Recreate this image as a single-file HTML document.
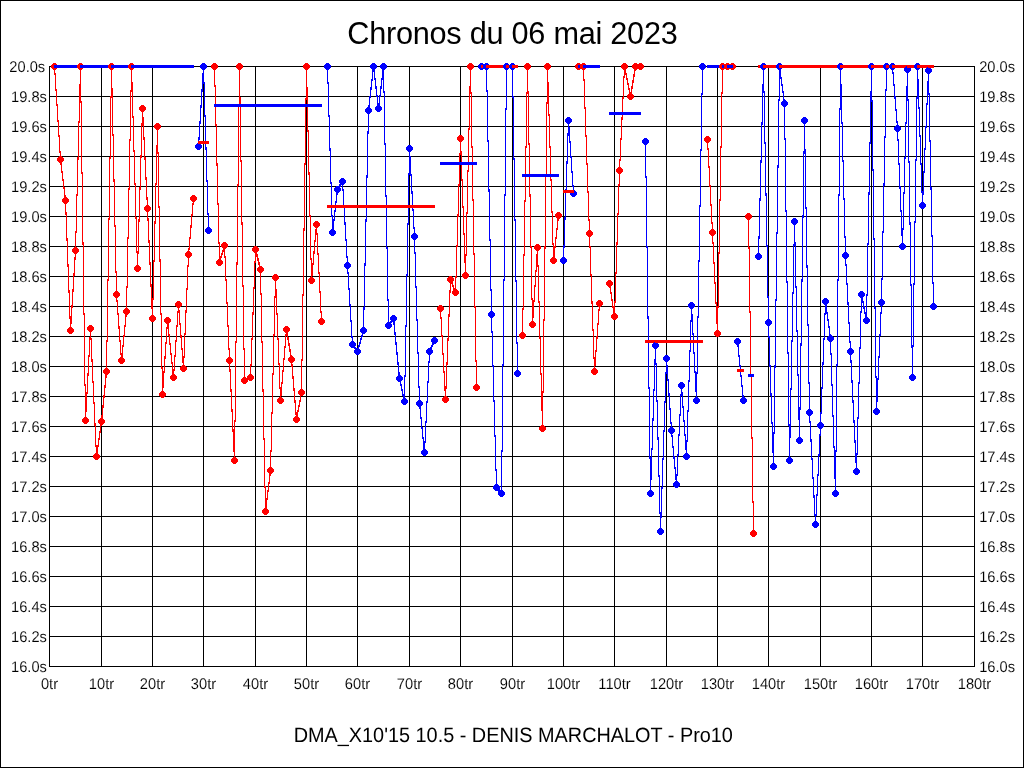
<!DOCTYPE html>
<html><head><meta charset="utf-8"><title>Chronos du 06 mai 2023</title>
<style>html,body{margin:0;padding:0;background:#fff}body{width:1024px;height:768px;overflow:hidden}svg{display:block;will-change:transform}text{font-family:"Liberation Sans",sans-serif;fill:#000}</style></head><body>
<svg width="1024" height="768" viewBox="0 0 1024 768">
<rect x="0" y="0" width="1024" height="768" fill="#fff"/>
<g shape-rendering="crispEdges">
<path d="M0.5 0.5H1023.5V767.5H0.5Z" fill="none" stroke="#000" stroke-width="1"/>
<path d="M49.5 66V667M101.5 66V667M152.5 66V667M203.5 66V667M255.5 66V667M306.5 66V667M357.5 66V667M409.5 66V667M460.5 66V667M512.5 66V667M563.5 66V667M614.5 66V667M666.5 66V667M717.5 66V667M768.5 66V667M820.5 66V667M871.5 66V667M922.5 66V667M974.5 66V667M49 66.5H975M49 96.5H975M49 126.5H975M49 156.5H975M49 186.5H975M49 216.5H975M49 246.5H975M49 276.5H975M49 306.5H975M49 336.5H975M49 366.5H975M49 396.5H975M49 426.5H975M49 456.5H975M49 486.5H975M49 516.5H975M49 546.5H975M49 576.5H975M49 606.5H975M49 636.5H975M49 666.5H975" fill="none" stroke="#000" stroke-width="1"/>
<path d="M54 66h1v9h-1zM55 73h1v18h-1zM56 89h1v17h-1zM57 104h1v18h-1zM58 120h1v17h-1zM59 135h1v18h-1zM60 151h1v9h-1zM60 159h1v6h-1zM61 163h1v10h-1zM62 171h1v10h-1zM63 179h1v10h-1zM64 187h1v10h-1zM65 195h1v6h-1zM65 200h1v15h-1zM66 212h1v29h-1zM67 238h1v29h-1zM68 264h1v29h-1zM69 290h1v29h-1zM70 316h1v15h-1zM70 321h1v10h-1zM71 305h1v19h-1zM72 289h1v19h-1zM73 273h1v19h-1zM74 257h1v19h-1zM75 250h1v10h-1zM75 231h1v20h-1zM76 194h1v39h-1zM77 157h1v39h-1zM78 121h1v39h-1zM79 84h1v39h-1zM80 66h1v20h-1zM80 66h1v37h-1zM81 101h1v73h-1zM82 172h1v73h-1zM83 242h1v73h-1zM84 313h1v73h-1zM85 384h1v37h-1zM85 410h1v11h-1zM86 392h1v20h-1zM87 373h1v21h-1zM88 355h1v21h-1zM89 337h1v20h-1zM90 328h1v11h-1zM90 328h1v12h-1zM91 338h1v24h-1zM92 359h1v24h-1zM93 381h1v23h-1zM94 402h1v24h-1zM95 423h1v24h-1zM96 445h1v12h-1zM96 452h1v5h-1zM97 445h1v9h-1zM98 438h1v9h-1zM99 431h1v9h-1zM100 424h1v9h-1zM101 421h1v5h-1zM101 415h1v7h-1zM102 405h1v13h-1zM103 395h1v13h-1zM104 385h1v13h-1zM105 375h1v13h-1zM106 371h1v7h-1zM106 340h1v32h-1zM107 279h1v63h-1zM108 218h1v63h-1zM109 157h1v63h-1zM110 96h1v63h-1zM111 66h1v32h-1zM111 66h1v24h-1zM112 88h1v48h-1zM113 134h1v48h-1zM114 179h1v48h-1zM115 225h1v48h-1zM116 271h1v24h-1zM116 294h1v8h-1zM117 300h1v15h-1zM118 313h1v16h-1zM119 326h1v16h-1zM120 340h1v15h-1zM121 353h1v8h-1zM121 355h1v6h-1zM122 345h1v12h-1zM123 335h1v12h-1zM124 325h1v12h-1zM125 315h1v12h-1zM126 311h1v6h-1zM126 286h1v26h-1zM127 237h1v51h-1zM128 188h1v51h-1zM129 139h1v51h-1zM130 90h1v51h-1zM131 66h1v26h-1zM131 66h1v18h-1zM132 82h1v36h-1zM133 116h1v36h-1zM134 150h1v35h-1zM135 183h1v36h-1zM136 217h1v36h-1zM137 251h1v18h-1zM137 251h1v18h-1zM138 219h1v35h-1zM139 187h1v35h-1zM140 155h1v35h-1zM141 123h1v35h-1zM142 108h1v18h-1zM142 108h1v12h-1zM143 117h1v23h-1zM144 137h1v23h-1zM145 157h1v23h-1zM146 177h1v23h-1zM147 197h1v12h-1zM147 208h1v13h-1zM148 218h1v25h-1zM149 240h1v25h-1zM150 262h1v25h-1zM151 284h1v25h-1zM152 306h1v13h-1zM152 298h1v21h-1zM153 260h1v40h-1zM154 221h1v41h-1zM155 183h1v41h-1zM156 145h1v40h-1zM157 126h1v21h-1zM157 126h1v28h-1zM158 152h1v56h-1zM159 206h1v56h-1zM160 259h1v56h-1zM161 313h1v56h-1zM162 367h1v28h-1zM162 386h1v9h-1zM163 371h1v17h-1zM164 356h1v17h-1zM165 342h1v17h-1zM166 327h1v17h-1zM167 320h1v9h-1zM167 320h1v6h-1zM168 324h1v12h-1zM169 334h1v11h-1zM170 343h1v12h-1zM171 353h1v11h-1zM172 362h1v12h-1zM173 372h1v6h-1zM173 369h1v9h-1zM174 355h1v16h-1zM175 340h1v17h-1zM176 325h1v17h-1zM177 311h1v16h-1zM178 304h1v9h-1zM178 304h1v8h-1zM179 310h1v15h-1zM180 323h1v15h-1zM181 335h1v15h-1zM182 348h1v15h-1zM183 361h1v8h-1zM183 356h1v13h-1zM184 333h1v25h-1zM185 310h1v25h-1zM186 288h1v25h-1zM187 265h1v25h-1zM188 254h1v13h-1zM188 248h1v7h-1zM189 237h1v13h-1zM190 225h1v14h-1zM191 214h1v14h-1zM192 203h1v13h-1zM193 198h1v7h-1z" fill="#f00"/>
<path d="M198 137h1v10h-1zM199 121h1v19h-1zM200 105h1v19h-1zM201 89h1v19h-1zM202 73h1v19h-1zM203 66h1v10h-1zM203 66h1v18h-1zM204 82h1v35h-1zM205 115h1v35h-1zM206 147h1v35h-1zM207 180h1v35h-1zM208 213h1v18h-1z" fill="#00f"/>
<path d="M214 66h1v21h-1zM215 85h1v41h-1zM216 124h1v42h-1zM217 163h1v42h-1zM218 203h1v41h-1zM219 242h1v21h-1zM219 260h1v3h-1zM220 256h1v6h-1zM221 253h1v5h-1zM222 250h1v5h-1zM223 246h1v6h-1zM224 245h1v3h-1zM224 245h1v13h-1zM225 256h1v25h-1zM226 279h1v25h-1zM227 302h1v25h-1zM228 325h1v25h-1zM229 348h1v13h-1zM229 360h1v12h-1zM230 369h1v23h-1zM231 389h1v23h-1zM232 409h1v23h-1zM233 429h1v23h-1zM234 449h1v12h-1zM234 420h1v41h-1zM235 341h1v81h-1zM236 262h1v81h-1zM237 184h1v81h-1zM238 105h1v81h-1zM239 66h1v41h-1zM239 66h1v33h-1zM240 97h1v65h-1zM241 160h1v65h-1zM242 222h1v65h-1zM243 285h1v65h-1zM244 348h1v33h-1zM248 377h3v1h-3zM246 378h5v1h-5zM244 379h5v1h-5zM244 380h3v1h-3zM250 364h1v14h-1zM251 338h1v28h-1zM252 312h1v28h-1zM253 287h1v28h-1zM254 261h1v28h-1zM255 249h1v14h-1zM255 249h1v4h-1zM256 250h1v7h-1zM257 254h1v7h-1zM258 258h1v7h-1zM259 262h1v7h-1zM260 266h1v4h-1zM260 269h1v26h-1zM261 293h1v50h-1zM262 341h1v51h-1zM263 389h1v51h-1zM264 438h1v50h-1zM265 486h1v26h-1zM265 506h1v6h-1zM266 498h1v10h-1zM267 490h1v10h-1zM268 482h1v10h-1zM269 474h1v10h-1zM270 470h1v6h-1zM270 450h1v21h-1zM271 412h1v40h-1zM272 373h1v41h-1zM273 334h1v41h-1zM274 296h1v40h-1zM275 277h1v21h-1zM275 277h1v14h-1zM276 289h1v26h-1zM277 313h1v27h-1zM278 338h1v27h-1zM279 363h1v26h-1zM280 387h1v14h-1zM280 394h1v7h-1zM281 382h1v14h-1zM282 370h1v14h-1zM283 358h1v14h-1zM284 346h1v14h-1zM285 334h1v14h-1zM286 329h1v7h-1zM286 329h1v5h-1zM287 331h1v9h-1zM288 337h1v9h-1zM289 343h1v9h-1zM290 349h1v9h-1zM291 355h1v5h-1zM291 359h1v8h-1zM292 364h1v15h-1zM293 376h1v15h-1zM294 388h1v15h-1zM295 400h1v15h-1zM296 412h1v8h-1zM296 416h1v4h-1zM297 410h1v8h-1zM298 405h1v7h-1zM299 400h1v7h-1zM300 394h1v8h-1zM301 392h1v4h-1zM301 359h1v34h-1zM302 294h1v67h-1zM303 228h1v68h-1zM304 163h1v68h-1zM305 98h1v67h-1zM306 66h1v34h-1zM306 66h1v23h-1zM307 87h1v45h-1zM308 130h1v45h-1zM309 172h1v45h-1zM310 215h1v45h-1zM311 258h1v23h-1zM311 274h1v7h-1zM312 263h1v13h-1zM313 251h1v14h-1zM314 240h1v14h-1zM315 229h1v13h-1zM316 224h1v7h-1zM316 224h1v11h-1zM317 233h1v22h-1zM318 253h1v21h-1zM319 272h1v21h-1zM320 291h1v22h-1zM321 311h1v11h-1z" fill="#f00"/>
<path d="M327 66h1v18h-1zM328 82h1v35h-1zM329 115h1v36h-1zM330 148h1v36h-1zM331 182h1v35h-1zM332 215h1v18h-1zM332 227h1v6h-1zM333 219h1v10h-1zM334 210h1v11h-1zM335 201h1v11h-1zM336 193h1v10h-1zM337 189h1v6h-1zM337 188h1v2h-1zM338 186h1v4h-1zM339 184h1v4h-1zM340 183h1v4h-1zM341 181h1v4h-1zM342 181h1v2h-1zM342 181h1v10h-1zM343 189h1v19h-1zM344 206h1v19h-1zM345 222h1v19h-1zM346 239h1v19h-1zM347 256h1v10h-1zM347 265h1v9h-1zM348 272h1v18h-1zM349 288h1v18h-1zM350 304h1v18h-1zM351 320h1v18h-1zM352 336h1v9h-1zM352 344h1v2h-1zM353 344h1v4h-1zM354 346h1v3h-1zM355 347h1v3h-1zM356 348h1v4h-1zM357 350h1v2h-1zM357 349h1v3h-1zM358 345h1v6h-1zM359 342h1v5h-1zM360 338h1v6h-1zM361 335h1v5h-1zM362 331h1v6h-1zM363 330h1v3h-1zM363 307h1v24h-1zM364 263h1v47h-1zM365 219h1v47h-1zM366 175h1v47h-1zM367 131h1v47h-1zM368 110h1v24h-1zM368 105h1v6h-1zM369 96h1v11h-1zM370 87h1v11h-1zM371 79h1v11h-1zM372 70h1v11h-1zM373 66h1v6h-1zM373 66h1v6h-1zM374 70h1v10h-1zM375 78h1v11h-1zM376 86h1v11h-1zM377 95h1v10h-1zM378 103h1v6h-1zM378 103h1v6h-1zM379 95h1v10h-1zM380 86h1v11h-1zM381 78h1v11h-1zM382 70h1v10h-1zM383 66h1v6h-1zM383 66h1v27h-1zM384 91h1v54h-1zM385 143h1v54h-1zM386 195h1v54h-1zM387 247h1v54h-1zM388 299h1v27h-1zM388 324h1v2h-1zM389 322h1v4h-1zM390 321h1v3h-1zM391 320h1v3h-1zM392 318h1v4h-1zM393 318h1v2h-1zM393 318h1v7h-1zM394 322h1v13h-1zM395 332h1v13h-1zM396 342h1v13h-1zM397 352h1v13h-1zM398 362h1v13h-1zM399 372h1v7h-1zM399 378h1v4h-1zM400 380h1v6h-1zM401 384h1v7h-1zM402 389h1v7h-1zM403 394h1v6h-1zM404 398h1v4h-1zM404 375h1v27h-1zM405 325h1v52h-1zM406 274h1v53h-1zM407 223h1v53h-1zM408 173h1v52h-1zM409 148h1v27h-1zM409 148h1v10h-1zM410 156h1v20h-1zM411 174h1v20h-1zM412 191h1v20h-1zM413 209h1v20h-1zM414 227h1v10h-1zM414 236h1v18h-1zM415 252h1v36h-1zM416 286h1v35h-1zM417 319h1v35h-1zM418 352h1v36h-1zM419 386h1v18h-1zM419 403h1v6h-1zM420 407h1v12h-1zM421 417h1v12h-1zM422 427h1v12h-1zM423 437h1v12h-1zM424 447h1v6h-1zM424 441h1v12h-1zM425 421h1v22h-1zM426 401h1v22h-1zM427 381h1v22h-1zM428 361h1v22h-1zM429 351h1v12h-1zM429 349h1v3h-1zM430 347h1v4h-1zM431 345h1v4h-1zM432 343h1v4h-1zM433 341h1v4h-1zM434 340h1v3h-1z" fill="#00f"/>
<path d="M440 308h1v11h-1zM441 317h1v20h-1zM442 335h1v20h-1zM443 353h1v20h-1zM444 371h1v20h-1zM445 389h1v11h-1zM445 386h1v14h-1zM446 362h1v27h-1zM447 338h1v27h-1zM448 314h1v27h-1zM449 290h1v27h-1zM450 279h1v14h-1zM450 279h1v3h-1zM451 280h1v4h-1zM452 282h1v5h-1zM453 285h1v5h-1zM454 288h1v4h-1zM455 290h1v3h-1zM455 276h1v17h-1zM456 245h1v33h-1zM457 214h1v33h-1zM458 184h1v33h-1zM459 153h1v33h-1zM460 138h1v17h-1zM460 138h1v15h-1zM461 151h1v30h-1zM462 179h1v29h-1zM463 206h1v29h-1zM464 233h1v30h-1zM465 261h1v15h-1zM465 254h1v22h-1zM466 212h1v44h-1zM467 170h1v44h-1zM468 128h1v44h-1zM469 86h1v44h-1zM470 66h1v22h-1zM470 66h1v28h-1zM471 92h1v56h-1zM472 146h1v55h-1zM473 199h1v56h-1zM474 253h1v55h-1zM475 306h1v56h-1zM476 360h1v28h-1z" fill="#f00"/>
<path d="M481 66h6v1h-6zM486 66h1v26h-1zM487 90h1v52h-1zM488 140h1v52h-1zM489 189h1v52h-1zM490 239h1v52h-1zM491 289h1v26h-1zM491 314h1v19h-1zM492 331h1v36h-1zM493 365h1v37h-1zM494 400h1v37h-1zM495 435h1v36h-1zM496 469h1v19h-1zM496 487h1v2h-1zM497 487h1v3h-1zM498 488h1v4h-1zM499 489h1v4h-1zM500 491h1v3h-1zM501 492h1v2h-1zM501 450h1v44h-1zM502 364h1v88h-1zM503 279h1v87h-1zM504 194h1v87h-1zM505 108h1v88h-1zM506 66h1v44h-1zM506 66h7v1h-7zM512 66h1v32h-1zM513 96h1v64h-1zM514 158h1v63h-1zM515 219h1v63h-1zM516 280h1v64h-1zM517 342h1v32h-1z" fill="#00f"/>
<path d="M522 308h1v28h-1zM523 254h1v56h-1zM524 200h1v56h-1zM525 146h1v56h-1zM526 92h1v56h-1zM527 66h1v28h-1zM527 66h1v27h-1zM528 91h1v54h-1zM529 143h1v54h-1zM530 194h1v54h-1zM531 246h1v54h-1zM532 298h1v27h-1zM532 316h1v9h-1zM533 300h1v18h-1zM534 285h1v17h-1zM535 270h1v17h-1zM536 254h1v18h-1zM537 247h1v9h-1zM537 247h1v20h-1zM538 265h1v38h-1zM539 301h1v38h-1zM540 337h1v38h-1zM541 373h1v38h-1zM542 409h1v20h-1zM542 391h1v38h-1zM543 319h1v74h-1zM544 246h1v75h-1zM545 174h1v75h-1zM546 102h1v74h-1zM547 66h1v38h-1zM547 66h1v18h-1zM548 82h1v34h-1zM549 114h1v34h-1zM550 146h1v35h-1zM551 179h1v34h-1zM552 211h1v34h-1zM553 243h1v18h-1zM553 255h1v6h-1zM554 246h1v11h-1zM555 237h1v11h-1zM556 228h1v11h-1zM557 219h1v11h-1zM558 215h1v6h-1z" fill="#f00"/>
<path d="M563 245h1v16h-1zM564 217h1v31h-1zM565 189h1v31h-1zM566 161h1v31h-1zM567 133h1v31h-1zM568 120h1v16h-1zM568 120h1v9h-1zM569 127h1v16h-1zM570 141h1v17h-1zM571 156h1v17h-1zM572 171h1v16h-1zM573 185h1v9h-1z" fill="#00f"/>
<path d="M578 66h6v1h-6zM583 66h1v15h-1zM584 79h1v30h-1zM585 107h1v30h-1zM586 135h1v30h-1zM587 163h1v30h-1zM588 191h1v30h-1zM589 219h1v15h-1zM589 233h1v15h-1zM590 246h1v30h-1zM591 274h1v30h-1zM592 301h1v30h-1zM593 329h1v30h-1zM594 357h1v15h-1zM594 364h1v8h-1zM595 350h1v16h-1zM596 336h1v16h-1zM597 323h1v16h-1zM598 309h1v16h-1zM599 303h1v8h-1z" fill="#f00"/>
<path d="M609 283h1v5h-1zM610 286h1v8h-1zM611 292h1v9h-1zM612 299h1v9h-1zM613 306h1v8h-1zM614 312h1v5h-1zM614 301h1v16h-1zM615 272h1v31h-1zM616 242h1v32h-1zM617 213h1v32h-1zM618 184h1v31h-1zM619 170h1v16h-1zM619 159h1v12h-1zM620 138h1v23h-1zM621 117h1v23h-1zM622 97h1v23h-1zM623 76h1v23h-1zM624 66h1v12h-1zM624 66h1v4h-1zM625 68h1v7h-1zM626 73h1v7h-1zM627 78h1v7h-1zM628 83h1v7h-1zM629 88h1v7h-1zM630 93h1v4h-1zM630 92h1v5h-1zM631 86h1v9h-1zM632 80h1v9h-1zM633 74h1v9h-1zM634 68h1v9h-1zM635 66h1v5h-1zM635 66h6v1h-6z" fill="#f00"/>
<path d="M645 141h1v37h-1zM646 176h1v72h-1zM647 246h1v73h-1zM648 316h1v73h-1zM649 387h1v72h-1zM650 457h1v37h-1zM650 478h1v16h-1zM651 448h1v32h-1zM652 418h1v32h-1zM653 389h1v32h-1zM654 359h1v32h-1zM655 345h1v16h-1zM655 345h1v20h-1zM656 363h1v39h-1zM657 400h1v40h-1zM658 437h1v40h-1zM659 475h1v39h-1zM660 512h1v20h-1zM660 516h1v16h-1zM661 487h1v31h-1zM662 458h1v31h-1zM663 430h1v30h-1zM664 401h1v31h-1zM665 372h1v31h-1zM666 358h1v16h-1zM666 358h1v9h-1zM667 365h1v16h-1zM668 379h1v17h-1zM669 393h1v17h-1zM670 408h1v16h-1zM671 422h1v9h-1zM671 430h1v7h-1zM672 435h1v13h-1zM673 446h1v13h-1zM674 456h1v13h-1zM675 467h1v13h-1zM676 478h1v7h-1zM676 474h1v11h-1zM677 454h1v22h-1zM678 434h1v22h-1zM679 414h1v22h-1zM680 394h1v22h-1zM681 385h1v11h-1zM681 385h1v9h-1zM682 392h1v16h-1zM683 406h1v16h-1zM684 420h1v16h-1zM685 434h1v16h-1zM686 448h1v9h-1zM686 440h1v17h-1zM687 410h1v32h-1zM688 380h1v32h-1zM689 350h1v32h-1zM690 320h1v32h-1zM691 305h1v17h-1zM691 305h1v11h-1zM692 314h1v21h-1zM693 333h1v21h-1zM694 352h1v21h-1zM695 371h1v21h-1zM696 390h1v11h-1zM696 372h1v29h-1zM697 316h1v58h-1zM698 260h1v58h-1zM699 205h1v57h-1zM700 149h1v58h-1zM701 93h1v58h-1zM702 66h1v29h-1z" fill="#00f"/>
<path d="M707 139h1v11h-1zM708 148h1v20h-1zM709 166h1v21h-1zM710 185h1v21h-1zM711 204h1v20h-1zM712 222h1v11h-1zM712 232h1v12h-1zM713 242h1v22h-1zM714 262h1v22h-1zM715 282h1v22h-1zM716 302h1v22h-1zM717 322h1v12h-1zM717 306h1v28h-1zM718 252h1v56h-1zM719 199h1v55h-1zM720 146h1v55h-1zM721 92h1v56h-1zM722 66h1v28h-1zM722 66h6v1h-6zM727 66h6v1h-6z" fill="#f00"/>
<path d="M737 341h1v6h-1zM738 345h1v12h-1zM739 355h1v12h-1zM740 365h1v12h-1zM741 375h1v12h-1zM742 385h1v12h-1zM743 395h1v6h-1z" fill="#00f"/>
<path d="M748 216h1v33h-1zM749 247h1v66h-1zM750 311h1v65h-1zM751 374h1v65h-1zM752 437h1v66h-1zM753 501h1v33h-1z" fill="#f00"/>
<path d="M758 236h1v21h-1zM759 198h1v41h-1zM760 160h1v41h-1zM761 122h1v41h-1zM762 84h1v41h-1zM763 66h1v21h-1zM763 66h1v27h-1zM764 91h1v53h-1zM765 142h1v54h-1zM766 193h1v54h-1zM767 245h1v53h-1zM768 296h1v27h-1zM768 322h1v16h-1zM769 336h1v31h-1zM770 365h1v31h-1zM771 393h1v31h-1zM772 422h1v31h-1zM773 451h1v16h-1zM773 432h1v35h-1zM774 365h1v69h-1zM775 299h1v69h-1zM776 232h1v69h-1zM777 165h1v69h-1zM778 99h1v69h-1zM779 66h1v35h-1zM779 66h1v5h-1zM780 69h1v10h-1zM781 77h1v9h-1zM782 84h1v9h-1zM783 91h1v10h-1zM784 99h1v5h-1zM784 103h1v37h-1zM785 138h1v74h-1zM786 210h1v73h-1zM787 281h1v73h-1zM788 352h1v74h-1zM789 424h1v37h-1zM789 436h1v25h-1zM790 388h1v50h-1zM791 340h1v50h-1zM792 292h1v50h-1zM793 244h1v50h-1zM794 221h1v25h-1zM794 221h1v23h-1zM795 242h1v46h-1zM796 286h1v46h-1zM797 330h1v46h-1zM798 374h1v46h-1zM799 418h1v23h-1zM799 407h1v34h-1zM800 343h1v67h-1zM801 279h1v67h-1zM802 215h1v67h-1zM803 151h1v67h-1zM804 120h1v34h-1zM804 120h1v31h-1zM805 149h1v60h-1zM806 207h1v61h-1zM807 265h1v61h-1zM808 324h1v60h-1zM809 382h1v31h-1zM809 412h1v11h-1zM810 421h1v21h-1zM811 439h1v21h-1zM812 458h1v21h-1zM813 477h1v21h-1zM814 495h1v21h-1zM815 514h1v11h-1zM815 514h1v11h-1zM816 494h1v22h-1zM817 474h1v22h-1zM818 454h1v22h-1zM819 434h1v22h-1zM820 425h1v11h-1zM820 412h1v14h-1zM821 387h1v27h-1zM822 362h1v27h-1zM823 338h1v27h-1zM824 313h1v27h-1zM825 301h1v14h-1zM825 301h1v5h-1zM826 304h1v10h-1zM827 312h1v9h-1zM828 319h1v9h-1zM829 326h1v10h-1zM830 334h1v5h-1zM830 338h1v17h-1zM831 353h1v33h-1zM832 384h1v33h-1zM833 415h1v33h-1zM834 446h1v33h-1zM835 477h1v17h-1zM835 450h1v44h-1zM836 364h1v88h-1zM837 279h1v87h-1zM838 194h1v87h-1zM839 108h1v88h-1zM840 66h1v44h-1zM840 66h1v20h-1zM841 84h1v40h-1zM842 122h1v40h-1zM843 160h1v40h-1zM844 198h1v40h-1zM845 236h1v20h-1zM845 255h1v11h-1zM846 264h1v21h-1zM847 283h1v22h-1zM848 302h1v22h-1zM849 322h1v21h-1zM850 341h1v11h-1zM850 351h1v12h-1zM851 360h1v23h-1zM852 380h1v23h-1zM853 400h1v23h-1zM854 420h1v23h-1zM855 440h1v23h-1zM856 460h1v12h-1zM856 453h1v19h-1zM857 417h1v38h-1zM858 382h1v37h-1zM859 347h1v37h-1zM860 311h1v38h-1zM861 294h1v19h-1zM861 294h1v4h-1zM862 296h1v7h-1zM863 301h1v8h-1zM864 306h1v8h-1zM865 312h1v7h-1zM866 317h1v4h-1zM866 294h1v27h-1zM867 243h1v53h-1zM868 192h1v53h-1zM869 142h1v53h-1zM870 91h1v53h-1zM871 66h1v27h-1zM871 66h1v36h-1zM872 100h1v71h-1zM873 169h1v71h-1zM874 238h1v71h-1zM875 307h1v71h-1zM876 376h1v36h-1zM876 400h1v12h-1zM877 378h1v24h-1zM878 356h1v24h-1zM879 334h1v24h-1zM880 312h1v24h-1zM881 302h1v12h-1zM881 278h1v25h-1zM882 231h1v49h-1zM883 183h1v50h-1zM884 136h1v50h-1zM885 89h1v49h-1zM886 66h1v25h-1zM886 66h7v1h-7zM892 66h1v8h-1zM893 72h1v14h-1zM894 84h1v15h-1zM895 96h1v15h-1zM896 109h1v14h-1zM897 121h1v8h-1zM897 128h1v13h-1zM898 139h1v26h-1zM899 163h1v26h-1zM900 186h1v26h-1zM901 210h1v26h-1zM902 234h1v13h-1zM902 228h1v19h-1zM903 192h1v38h-1zM904 157h1v37h-1zM905 122h1v37h-1zM906 86h1v38h-1zM907 69h1v19h-1zM907 69h1v32h-1zM908 99h1v64h-1zM909 161h1v64h-1zM910 222h1v64h-1zM911 284h1v64h-1zM912 346h1v32h-1zM912 345h1v33h-1zM913 283h1v64h-1zM914 221h1v64h-1zM915 159h1v64h-1zM916 97h1v64h-1zM917 66h1v33h-1zM917 66h1v15h-1zM918 79h1v30h-1zM919 107h1v30h-1zM920 135h1v30h-1zM921 163h1v30h-1zM922 191h1v15h-1zM922 193h1v13h-1zM923 171h1v24h-1zM924 148h1v25h-1zM925 126h1v24h-1zM926 103h1v25h-1zM927 81h1v24h-1zM928 70h1v13h-1zM928 70h1v25h-1zM929 93h1v49h-1zM930 140h1v50h-1zM931 187h1v50h-1zM932 235h1v49h-1zM933 282h1v25h-1z" fill="#00f"/>
<path d="M53 63h3v7h-3zM52 64h5v5h-5zM51 65h7v3h-7z" fill="#f00"/>
<path d="M59 156h3v7h-3zM58 157h5v5h-5zM57 158h7v3h-7z" fill="#f00"/>
<path d="M64 197h3v7h-3zM63 198h5v5h-5zM62 199h7v3h-7z" fill="#f00"/>
<path d="M69 327h3v7h-3zM68 328h5v5h-5zM67 329h7v3h-7z" fill="#f00"/>
<path d="M74 247h3v7h-3zM73 248h5v5h-5zM72 249h7v3h-7z" fill="#f00"/>
<path d="M79 63h3v7h-3zM78 64h5v5h-5zM77 65h7v3h-7z" fill="#f00"/>
<path d="M84 417h3v7h-3zM83 418h5v5h-5zM82 419h7v3h-7z" fill="#f00"/>
<path d="M89 325h3v7h-3zM88 326h5v5h-5zM87 327h7v3h-7z" fill="#f00"/>
<path d="M95 453h3v7h-3zM94 454h5v5h-5zM93 455h7v3h-7z" fill="#f00"/>
<path d="M100 418h3v7h-3zM99 419h5v5h-5zM98 420h7v3h-7z" fill="#f00"/>
<path d="M105 368h3v7h-3zM104 369h5v5h-5zM103 370h7v3h-7z" fill="#f00"/>
<path d="M110 63h3v7h-3zM109 64h5v5h-5zM108 65h7v3h-7z" fill="#f00"/>
<path d="M115 291h3v7h-3zM114 292h5v5h-5zM113 293h7v3h-7z" fill="#f00"/>
<path d="M120 357h3v7h-3zM119 358h5v5h-5zM118 359h7v3h-7z" fill="#f00"/>
<path d="M125 308h3v7h-3zM124 309h5v5h-5zM123 310h7v3h-7z" fill="#f00"/>
<path d="M130 63h3v7h-3zM129 64h5v5h-5zM128 65h7v3h-7z" fill="#f00"/>
<path d="M136 265h3v7h-3zM135 266h5v5h-5zM134 267h7v3h-7z" fill="#f00"/>
<path d="M141 105h3v7h-3zM140 106h5v5h-5zM139 107h7v3h-7z" fill="#f00"/>
<path d="M146 205h3v7h-3zM145 206h5v5h-5zM144 207h7v3h-7z" fill="#f00"/>
<path d="M151 315h3v7h-3zM150 316h5v5h-5zM149 317h7v3h-7z" fill="#f00"/>
<path d="M156 123h3v7h-3zM155 124h5v5h-5zM154 125h7v3h-7z" fill="#f00"/>
<path d="M161 391h3v7h-3zM160 392h5v5h-5zM159 393h7v3h-7z" fill="#f00"/>
<path d="M166 317h3v7h-3zM165 318h5v5h-5zM164 319h7v3h-7z" fill="#f00"/>
<path d="M172 374h3v7h-3zM171 375h5v5h-5zM170 376h7v3h-7z" fill="#f00"/>
<path d="M177 301h3v7h-3zM176 302h5v5h-5zM175 303h7v3h-7z" fill="#f00"/>
<path d="M182 365h3v7h-3zM181 366h5v5h-5zM180 367h7v3h-7z" fill="#f00"/>
<path d="M187 251h3v7h-3zM186 252h5v5h-5zM185 253h7v3h-7z" fill="#f00"/>
<path d="M192 195h3v7h-3zM191 196h5v5h-5zM190 197h7v3h-7z" fill="#f00"/>
<rect x="54" y="65" width="140" height="3" fill="#00f"/>
<path d="M53 63h1v7h-1zM52 64h1v5h-1zM51 65h1v3h-1z" fill="#f00"/>
<path d="M79 63h1v7h-1zM78 64h1v5h-1zM77 65h1v3h-1z" fill="#f00"/>
<path d="M110 63h1v7h-1zM109 64h1v5h-1zM108 65h1v3h-1z" fill="#f00"/>
<path d="M130 63h1v7h-1zM129 64h1v5h-1zM128 65h1v3h-1z" fill="#f00"/>
<path d="M197 143h3v7h-3zM196 144h5v5h-5zM195 145h7v3h-7z" fill="#00f"/>
<path d="M202 63h3v7h-3zM201 64h5v5h-5zM200 65h7v3h-7z" fill="#00f"/>
<path d="M207 227h3v7h-3zM206 228h5v5h-5zM205 229h7v3h-7z" fill="#00f"/>
<rect x="198" y="141" width="11" height="3" fill="#f00"/>
<path d="M197 143h1v7h-1zM196 144h1v5h-1zM195 145h1v3h-1z" fill="#00f"/>
<path d="M213 63h3v7h-3zM212 64h5v5h-5zM211 65h7v3h-7z" fill="#f00"/>
<path d="M218 259h3v7h-3zM217 260h5v5h-5zM216 261h7v3h-7z" fill="#f00"/>
<path d="M223 242h3v7h-3zM222 243h5v5h-5zM221 244h7v3h-7z" fill="#f00"/>
<path d="M228 357h3v7h-3zM227 358h5v5h-5zM226 359h7v3h-7z" fill="#f00"/>
<path d="M233 457h3v7h-3zM232 458h5v5h-5zM231 459h7v3h-7z" fill="#f00"/>
<path d="M238 63h3v7h-3zM237 64h5v5h-5zM236 65h7v3h-7z" fill="#f00"/>
<path d="M243 377h3v7h-3zM242 378h5v5h-5zM241 379h7v3h-7z" fill="#f00"/>
<path d="M249 374h3v7h-3zM248 375h5v5h-5zM247 376h7v3h-7z" fill="#f00"/>
<path d="M254 246h3v7h-3zM253 247h5v5h-5zM252 248h7v3h-7z" fill="#f00"/>
<path d="M259 266h3v7h-3zM258 267h5v5h-5zM257 268h7v3h-7z" fill="#f00"/>
<path d="M264 508h3v7h-3zM263 509h5v5h-5zM262 510h7v3h-7z" fill="#f00"/>
<path d="M269 467h3v7h-3zM268 468h5v5h-5zM267 469h7v3h-7z" fill="#f00"/>
<path d="M274 274h3v7h-3zM273 275h5v5h-5zM272 276h7v3h-7z" fill="#f00"/>
<path d="M279 397h3v7h-3zM278 398h5v5h-5zM277 399h7v3h-7z" fill="#f00"/>
<path d="M285 326h3v7h-3zM284 327h5v5h-5zM283 328h7v3h-7z" fill="#f00"/>
<path d="M290 356h3v7h-3zM289 357h5v5h-5zM288 358h7v3h-7z" fill="#f00"/>
<path d="M295 416h3v7h-3zM294 417h5v5h-5zM293 418h7v3h-7z" fill="#f00"/>
<path d="M300 389h3v7h-3zM299 390h5v5h-5zM298 391h7v3h-7z" fill="#f00"/>
<path d="M305 63h3v7h-3zM304 64h5v5h-5zM303 65h7v3h-7z" fill="#f00"/>
<path d="M310 277h3v7h-3zM309 278h5v5h-5zM308 279h7v3h-7z" fill="#f00"/>
<path d="M315 221h3v7h-3zM314 222h5v5h-5zM313 223h7v3h-7z" fill="#f00"/>
<path d="M320 318h3v7h-3zM319 319h5v5h-5zM318 320h7v3h-7z" fill="#f00"/>
<rect x="214" y="104" width="108" height="3" fill="#00f"/>
<path d="M326 63h3v7h-3zM325 64h5v5h-5zM324 65h7v3h-7z" fill="#00f"/>
<path d="M331 229h3v7h-3zM330 230h5v5h-5zM329 231h7v3h-7z" fill="#00f"/>
<path d="M336 186h3v7h-3zM335 187h5v5h-5zM334 188h7v3h-7z" fill="#00f"/>
<path d="M341 178h3v7h-3zM340 179h5v5h-5zM339 180h7v3h-7z" fill="#00f"/>
<path d="M346 262h3v7h-3zM345 263h5v5h-5zM344 264h7v3h-7z" fill="#00f"/>
<path d="M351 341h3v7h-3zM350 342h5v5h-5zM349 343h7v3h-7z" fill="#00f"/>
<path d="M356 348h3v7h-3zM355 349h5v5h-5zM354 350h7v3h-7z" fill="#00f"/>
<path d="M362 327h3v7h-3zM361 328h5v5h-5zM360 329h7v3h-7z" fill="#00f"/>
<path d="M367 107h3v7h-3zM366 108h5v5h-5zM365 109h7v3h-7z" fill="#00f"/>
<path d="M372 63h3v7h-3zM371 64h5v5h-5zM370 65h7v3h-7z" fill="#00f"/>
<path d="M377 105h3v7h-3zM376 106h5v5h-5zM375 107h7v3h-7z" fill="#00f"/>
<path d="M382 63h3v7h-3zM381 64h5v5h-5zM380 65h7v3h-7z" fill="#00f"/>
<path d="M387 322h3v7h-3zM386 323h5v5h-5zM385 324h7v3h-7z" fill="#00f"/>
<path d="M392 315h3v7h-3zM391 316h5v5h-5zM390 317h7v3h-7z" fill="#00f"/>
<path d="M398 375h3v7h-3zM397 376h5v5h-5zM396 377h7v3h-7z" fill="#00f"/>
<path d="M403 398h3v7h-3zM402 399h5v5h-5zM401 400h7v3h-7z" fill="#00f"/>
<path d="M408 145h3v7h-3zM407 146h5v5h-5zM406 147h7v3h-7z" fill="#00f"/>
<path d="M413 233h3v7h-3zM412 234h5v5h-5zM411 235h7v3h-7z" fill="#00f"/>
<path d="M418 400h3v7h-3zM417 401h5v5h-5zM416 402h7v3h-7z" fill="#00f"/>
<path d="M423 449h3v7h-3zM422 450h5v5h-5zM421 451h7v3h-7z" fill="#00f"/>
<path d="M428 348h3v7h-3zM427 349h5v5h-5zM426 350h7v3h-7z" fill="#00f"/>
<path d="M433 337h3v7h-3zM432 338h5v5h-5zM431 339h7v3h-7z" fill="#00f"/>
<rect x="327" y="205" width="108" height="3" fill="#f00"/>
<path d="M439 305h3v7h-3zM438 306h5v5h-5zM437 307h7v3h-7z" fill="#f00"/>
<path d="M444 396h3v7h-3zM443 397h5v5h-5zM442 398h7v3h-7z" fill="#f00"/>
<path d="M449 276h3v7h-3zM448 277h5v5h-5zM447 278h7v3h-7z" fill="#f00"/>
<path d="M454 289h3v7h-3zM453 290h5v5h-5zM452 291h7v3h-7z" fill="#f00"/>
<path d="M459 135h3v7h-3zM458 136h5v5h-5zM457 137h7v3h-7z" fill="#f00"/>
<path d="M464 272h3v7h-3zM463 273h5v5h-5zM462 274h7v3h-7z" fill="#f00"/>
<path d="M469 63h3v7h-3zM468 64h5v5h-5zM467 65h7v3h-7z" fill="#f00"/>
<path d="M475 384h3v7h-3zM474 385h5v5h-5zM473 386h7v3h-7z" fill="#f00"/>
<rect x="440" y="162" width="37" height="3" fill="#00f"/>
<path d="M480 63h3v7h-3zM479 64h5v5h-5zM478 65h7v3h-7z" fill="#00f"/>
<path d="M485 63h3v7h-3zM484 64h5v5h-5zM483 65h7v3h-7z" fill="#00f"/>
<path d="M490 311h3v7h-3zM489 312h5v5h-5zM488 313h7v3h-7z" fill="#00f"/>
<path d="M495 484h3v7h-3zM494 485h5v5h-5zM493 486h7v3h-7z" fill="#00f"/>
<path d="M500 490h3v7h-3zM499 491h5v5h-5zM498 492h7v3h-7z" fill="#00f"/>
<path d="M505 63h3v7h-3zM504 64h5v5h-5zM503 65h7v3h-7z" fill="#00f"/>
<path d="M511 63h3v7h-3zM510 64h5v5h-5zM509 65h7v3h-7z" fill="#00f"/>
<path d="M516 370h3v7h-3zM515 371h5v5h-5zM514 372h7v3h-7z" fill="#00f"/>
<rect x="481" y="65" width="37" height="3" fill="#f00"/>
<path d="M480 63h1v7h-1zM479 64h1v5h-1zM478 65h1v3h-1z" fill="#00f"/>
<path d="M485 63h1v7h-1zM484 64h1v5h-1zM483 65h1v3h-1z" fill="#00f"/>
<path d="M505 63h1v7h-1zM504 64h1v5h-1zM503 65h1v3h-1z" fill="#00f"/>
<path d="M511 63h1v7h-1zM510 64h1v5h-1zM509 65h1v3h-1z" fill="#00f"/>
<path d="M521 332h3v7h-3zM520 333h5v5h-5zM519 334h7v3h-7z" fill="#f00"/>
<path d="M526 63h3v7h-3zM525 64h5v5h-5zM524 65h7v3h-7z" fill="#f00"/>
<path d="M531 321h3v7h-3zM530 322h5v5h-5zM529 323h7v3h-7z" fill="#f00"/>
<path d="M536 244h3v7h-3zM535 245h5v5h-5zM534 246h7v3h-7z" fill="#f00"/>
<path d="M541 425h3v7h-3zM540 426h5v5h-5zM539 427h7v3h-7z" fill="#f00"/>
<path d="M546 63h3v7h-3zM545 64h5v5h-5zM544 65h7v3h-7z" fill="#f00"/>
<path d="M552 257h3v7h-3zM551 258h5v5h-5zM550 259h7v3h-7z" fill="#f00"/>
<path d="M557 212h3v7h-3zM556 213h5v5h-5zM555 214h7v3h-7z" fill="#f00"/>
<rect x="522" y="174" width="37" height="3" fill="#00f"/>
<path d="M562 257h3v7h-3zM561 258h5v5h-5zM560 259h7v3h-7z" fill="#00f"/>
<path d="M567 117h3v7h-3zM566 118h5v5h-5zM565 119h7v3h-7z" fill="#00f"/>
<path d="M572 190h3v7h-3zM571 191h5v5h-5zM570 192h7v3h-7z" fill="#00f"/>
<rect x="563" y="190" width="11" height="3" fill="#f00"/>
<path d="M577 63h3v7h-3zM576 64h5v5h-5zM575 65h7v3h-7z" fill="#f00"/>
<path d="M582 63h3v7h-3zM581 64h5v5h-5zM580 65h7v3h-7z" fill="#f00"/>
<path d="M588 230h3v7h-3zM587 231h5v5h-5zM586 232h7v3h-7z" fill="#f00"/>
<path d="M593 368h3v7h-3zM592 369h5v5h-5zM591 370h7v3h-7z" fill="#f00"/>
<path d="M598 300h3v7h-3zM597 301h5v5h-5zM596 302h7v3h-7z" fill="#f00"/>
<rect x="578" y="65" width="22" height="3" fill="#00f"/>
<path d="M577 63h1v7h-1zM576 64h1v5h-1zM575 65h1v3h-1z" fill="#f00"/>
<path d="M582 63h1v7h-1zM581 64h1v5h-1zM580 65h1v3h-1z" fill="#f00"/>
<path d="M608 280h3v7h-3zM607 281h5v5h-5zM606 282h7v3h-7z" fill="#f00"/>
<path d="M613 313h3v7h-3zM612 314h5v5h-5zM611 315h7v3h-7z" fill="#f00"/>
<path d="M618 167h3v7h-3zM617 168h5v5h-5zM616 169h7v3h-7z" fill="#f00"/>
<path d="M623 63h3v7h-3zM622 64h5v5h-5zM621 65h7v3h-7z" fill="#f00"/>
<path d="M629 93h3v7h-3zM628 94h5v5h-5zM627 95h7v3h-7z" fill="#f00"/>
<path d="M634 63h3v7h-3zM633 64h5v5h-5zM632 65h7v3h-7z" fill="#f00"/>
<path d="M639 63h3v7h-3zM638 64h5v5h-5zM637 65h7v3h-7z" fill="#f00"/>
<rect x="609" y="112" width="32" height="3" fill="#00f"/>
<path d="M644 138h3v7h-3zM643 139h5v5h-5zM642 140h7v3h-7z" fill="#00f"/>
<path d="M649 490h3v7h-3zM648 491h5v5h-5zM647 492h7v3h-7z" fill="#00f"/>
<path d="M654 342h3v7h-3zM653 343h5v5h-5zM652 344h7v3h-7z" fill="#00f"/>
<path d="M659 528h3v7h-3zM658 529h5v5h-5zM657 530h7v3h-7z" fill="#00f"/>
<path d="M665 355h3v7h-3zM664 356h5v5h-5zM663 357h7v3h-7z" fill="#00f"/>
<path d="M670 427h3v7h-3zM669 428h5v5h-5zM668 429h7v3h-7z" fill="#00f"/>
<path d="M675 481h3v7h-3zM674 482h5v5h-5zM673 483h7v3h-7z" fill="#00f"/>
<path d="M680 382h3v7h-3zM679 383h5v5h-5zM678 384h7v3h-7z" fill="#00f"/>
<path d="M685 453h3v7h-3zM684 454h5v5h-5zM683 455h7v3h-7z" fill="#00f"/>
<path d="M690 302h3v7h-3zM689 303h5v5h-5zM688 304h7v3h-7z" fill="#00f"/>
<path d="M695 397h3v7h-3zM694 398h5v5h-5zM693 399h7v3h-7z" fill="#00f"/>
<path d="M701 63h3v7h-3zM700 64h5v5h-5zM699 65h7v3h-7z" fill="#00f"/>
<rect x="645" y="340" width="58" height="3" fill="#f00"/>
<path d="M654 342h1v7h-1zM653 343h1v5h-1zM652 344h1v3h-1z" fill="#00f"/>
<path d="M706 136h3v7h-3zM705 137h5v5h-5zM704 138h7v3h-7z" fill="#f00"/>
<path d="M711 229h3v7h-3zM710 230h5v5h-5zM709 231h7v3h-7z" fill="#f00"/>
<path d="M716 330h3v7h-3zM715 331h5v5h-5zM714 332h7v3h-7z" fill="#f00"/>
<path d="M721 63h3v7h-3zM720 64h5v5h-5zM719 65h7v3h-7z" fill="#f00"/>
<path d="M726 63h3v7h-3zM725 64h5v5h-5zM724 65h7v3h-7z" fill="#f00"/>
<path d="M731 63h3v7h-3zM730 64h5v5h-5zM729 65h7v3h-7z" fill="#f00"/>
<rect x="707" y="65" width="26" height="3" fill="#00f"/>
<path d="M721 63h1v7h-1zM720 64h1v5h-1zM719 65h1v3h-1z" fill="#f00"/>
<path d="M726 63h1v7h-1zM725 64h1v5h-1zM724 65h1v3h-1z" fill="#f00"/>
<path d="M736 338h3v7h-3zM735 339h5v5h-5zM734 340h7v3h-7z" fill="#00f"/>
<path d="M742 397h3v7h-3zM741 398h5v5h-5zM740 399h7v3h-7z" fill="#00f"/>
<rect x="737" y="369" width="7" height="3" fill="#f00"/>
<path d="M747 213h3v7h-3zM746 214h5v5h-5zM745 215h7v3h-7z" fill="#f00"/>
<path d="M752 530h3v7h-3zM751 531h5v5h-5zM750 532h7v3h-7z" fill="#f00"/>
<rect x="748" y="374" width="6" height="3" fill="#00f"/>
<path d="M757 253h3v7h-3zM756 254h5v5h-5zM755 255h7v3h-7z" fill="#00f"/>
<path d="M762 63h3v7h-3zM761 64h5v5h-5zM760 65h7v3h-7z" fill="#00f"/>
<path d="M767 319h3v7h-3zM766 320h5v5h-5zM765 321h7v3h-7z" fill="#00f"/>
<path d="M772 463h3v7h-3zM771 464h5v5h-5zM770 465h7v3h-7z" fill="#00f"/>
<path d="M778 63h3v7h-3zM777 64h5v5h-5zM776 65h7v3h-7z" fill="#00f"/>
<path d="M783 100h3v7h-3zM782 101h5v5h-5zM781 102h7v3h-7z" fill="#00f"/>
<path d="M788 457h3v7h-3zM787 458h5v5h-5zM786 459h7v3h-7z" fill="#00f"/>
<path d="M793 218h3v7h-3zM792 219h5v5h-5zM791 220h7v3h-7z" fill="#00f"/>
<path d="M798 437h3v7h-3zM797 438h5v5h-5zM796 439h7v3h-7z" fill="#00f"/>
<path d="M803 117h3v7h-3zM802 118h5v5h-5zM801 119h7v3h-7z" fill="#00f"/>
<path d="M808 409h3v7h-3zM807 410h5v5h-5zM806 411h7v3h-7z" fill="#00f"/>
<path d="M814 521h3v7h-3zM813 522h5v5h-5zM812 523h7v3h-7z" fill="#00f"/>
<path d="M819 422h3v7h-3zM818 423h5v5h-5zM817 424h7v3h-7z" fill="#00f"/>
<path d="M824 298h3v7h-3zM823 299h5v5h-5zM822 300h7v3h-7z" fill="#00f"/>
<path d="M829 335h3v7h-3zM828 336h5v5h-5zM827 337h7v3h-7z" fill="#00f"/>
<path d="M834 490h3v7h-3zM833 491h5v5h-5zM832 492h7v3h-7z" fill="#00f"/>
<path d="M839 63h3v7h-3zM838 64h5v5h-5zM837 65h7v3h-7z" fill="#00f"/>
<path d="M844 252h3v7h-3zM843 253h5v5h-5zM842 254h7v3h-7z" fill="#00f"/>
<path d="M849 348h3v7h-3zM848 349h5v5h-5zM847 350h7v3h-7z" fill="#00f"/>
<path d="M855 468h3v7h-3zM854 469h5v5h-5zM853 470h7v3h-7z" fill="#00f"/>
<path d="M860 291h3v7h-3zM859 292h5v5h-5zM858 293h7v3h-7z" fill="#00f"/>
<path d="M865 317h3v7h-3zM864 318h5v5h-5zM863 319h7v3h-7z" fill="#00f"/>
<path d="M870 63h3v7h-3zM869 64h5v5h-5zM868 65h7v3h-7z" fill="#00f"/>
<path d="M875 408h3v7h-3zM874 409h5v5h-5zM873 410h7v3h-7z" fill="#00f"/>
<path d="M880 299h3v7h-3zM879 300h5v5h-5zM878 301h7v3h-7z" fill="#00f"/>
<path d="M885 63h3v7h-3zM884 64h5v5h-5zM883 65h7v3h-7z" fill="#00f"/>
<path d="M891 63h3v7h-3zM890 64h5v5h-5zM889 65h7v3h-7z" fill="#00f"/>
<path d="M896 125h3v7h-3zM895 126h5v5h-5zM894 127h7v3h-7z" fill="#00f"/>
<path d="M901 243h3v7h-3zM900 244h5v5h-5zM899 245h7v3h-7z" fill="#00f"/>
<path d="M906 66h3v7h-3zM905 67h5v5h-5zM904 68h7v3h-7z" fill="#00f"/>
<path d="M911 374h3v7h-3zM910 375h5v5h-5zM909 376h7v3h-7z" fill="#00f"/>
<path d="M916 63h3v7h-3zM915 64h5v5h-5zM914 65h7v3h-7z" fill="#00f"/>
<path d="M921 202h3v7h-3zM920 203h5v5h-5zM919 204h7v3h-7z" fill="#00f"/>
<path d="M927 67h3v7h-3zM926 68h5v5h-5zM925 69h7v3h-7z" fill="#00f"/>
<path d="M932 303h3v7h-3zM931 304h5v5h-5zM930 305h7v3h-7z" fill="#00f"/>
<rect x="758" y="65" width="176" height="3" fill="#f00"/>
<path d="M762 63h1v7h-1zM761 64h1v5h-1zM760 65h1v3h-1z" fill="#00f"/>
<path d="M778 63h1v7h-1zM777 64h1v5h-1zM776 65h1v3h-1z" fill="#00f"/>
<path d="M839 63h1v7h-1zM838 64h1v5h-1zM837 65h1v3h-1z" fill="#00f"/>
<path d="M870 63h1v7h-1zM869 64h1v5h-1zM868 65h1v3h-1z" fill="#00f"/>
<path d="M885 63h1v7h-1zM884 64h1v5h-1zM883 65h1v3h-1z" fill="#00f"/>
<path d="M891 63h1v7h-1zM890 64h1v5h-1zM889 65h1v3h-1z" fill="#00f"/>
<path d="M906 66h1v7h-1zM905 67h1v5h-1zM904 68h1v3h-1z" fill="#00f"/>
<path d="M916 63h1v7h-1zM915 64h1v5h-1zM914 65h1v3h-1z" fill="#00f"/>
<path d="M927 67h1v7h-1zM926 68h1v5h-1zM925 69h1v3h-1z" fill="#00f"/>
</g>
<text x="512.4" y="44" font-size="30.67" letter-spacing="-0.25" text-anchor="middle">Chronos du 06 mai 2023</text>
<text transform="translate(513.3,741.8) scale(0.9596,1)" font-size="20.7" text-rendering="geometricPrecision" text-anchor="middle">DMA_X10'15 10.5 - DENIS MARCHALOT - Pro10</text>
<text transform="translate(45.20,72.00) scale(0.9526,1)" font-size="15.4" text-rendering="geometricPrecision" stroke="#fff" stroke-width="0.1" text-anchor="end">20.0s</text>
<text transform="translate(979.20,72.00) scale(0.9526,1)" font-size="15.4" text-rendering="geometricPrecision" stroke="#fff" stroke-width="0.1" text-anchor="start">20.0s</text>
<text transform="translate(46.90,102.00) scale(0.9526,1)" font-size="15.4" text-rendering="geometricPrecision" stroke="#fff" stroke-width="0.1" text-anchor="end">19.8s</text>
<text transform="translate(979.20,102.00) scale(0.9526,1)" font-size="15.4" text-rendering="geometricPrecision" stroke="#fff" stroke-width="0.1" text-anchor="start">19.8s</text>
<text transform="translate(46.90,132.00) scale(0.9526,1)" font-size="15.4" text-rendering="geometricPrecision" stroke="#fff" stroke-width="0.1" text-anchor="end">19.6s</text>
<text transform="translate(979.20,132.00) scale(0.9526,1)" font-size="15.4" text-rendering="geometricPrecision" stroke="#fff" stroke-width="0.1" text-anchor="start">19.6s</text>
<text transform="translate(46.90,162.00) scale(0.9526,1)" font-size="15.4" text-rendering="geometricPrecision" stroke="#fff" stroke-width="0.1" text-anchor="end">19.4s</text>
<text transform="translate(979.20,162.00) scale(0.9526,1)" font-size="15.4" text-rendering="geometricPrecision" stroke="#fff" stroke-width="0.1" text-anchor="start">19.4s</text>
<text transform="translate(46.90,192.00) scale(0.9526,1)" font-size="15.4" text-rendering="geometricPrecision" stroke="#fff" stroke-width="0.1" text-anchor="end">19.2s</text>
<text transform="translate(979.20,192.00) scale(0.9526,1)" font-size="15.4" text-rendering="geometricPrecision" stroke="#fff" stroke-width="0.1" text-anchor="start">19.2s</text>
<text transform="translate(46.90,222.00) scale(0.9526,1)" font-size="15.4" text-rendering="geometricPrecision" stroke="#fff" stroke-width="0.1" text-anchor="end">19.0s</text>
<text transform="translate(979.20,222.00) scale(0.9526,1)" font-size="15.4" text-rendering="geometricPrecision" stroke="#fff" stroke-width="0.1" text-anchor="start">19.0s</text>
<text transform="translate(46.90,252.00) scale(0.9526,1)" font-size="15.4" text-rendering="geometricPrecision" stroke="#fff" stroke-width="0.1" text-anchor="end">18.8s</text>
<text transform="translate(979.20,252.00) scale(0.9526,1)" font-size="15.4" text-rendering="geometricPrecision" stroke="#fff" stroke-width="0.1" text-anchor="start">18.8s</text>
<text transform="translate(46.90,282.00) scale(0.9526,1)" font-size="15.4" text-rendering="geometricPrecision" stroke="#fff" stroke-width="0.1" text-anchor="end">18.6s</text>
<text transform="translate(979.20,282.00) scale(0.9526,1)" font-size="15.4" text-rendering="geometricPrecision" stroke="#fff" stroke-width="0.1" text-anchor="start">18.6s</text>
<text transform="translate(46.90,312.00) scale(0.9526,1)" font-size="15.4" text-rendering="geometricPrecision" stroke="#fff" stroke-width="0.1" text-anchor="end">18.4s</text>
<text transform="translate(979.20,312.00) scale(0.9526,1)" font-size="15.4" text-rendering="geometricPrecision" stroke="#fff" stroke-width="0.1" text-anchor="start">18.4s</text>
<text transform="translate(46.90,342.00) scale(0.9526,1)" font-size="15.4" text-rendering="geometricPrecision" stroke="#fff" stroke-width="0.1" text-anchor="end">18.2s</text>
<text transform="translate(979.20,342.00) scale(0.9526,1)" font-size="15.4" text-rendering="geometricPrecision" stroke="#fff" stroke-width="0.1" text-anchor="start">18.2s</text>
<text transform="translate(46.90,372.00) scale(0.9526,1)" font-size="15.4" text-rendering="geometricPrecision" stroke="#fff" stroke-width="0.1" text-anchor="end">18.0s</text>
<text transform="translate(979.20,372.00) scale(0.9526,1)" font-size="15.4" text-rendering="geometricPrecision" stroke="#fff" stroke-width="0.1" text-anchor="start">18.0s</text>
<text transform="translate(46.90,402.00) scale(0.9526,1)" font-size="15.4" text-rendering="geometricPrecision" stroke="#fff" stroke-width="0.1" text-anchor="end">17.8s</text>
<text transform="translate(979.20,402.00) scale(0.9526,1)" font-size="15.4" text-rendering="geometricPrecision" stroke="#fff" stroke-width="0.1" text-anchor="start">17.8s</text>
<text transform="translate(46.90,432.00) scale(0.9526,1)" font-size="15.4" text-rendering="geometricPrecision" stroke="#fff" stroke-width="0.1" text-anchor="end">17.6s</text>
<text transform="translate(979.20,432.00) scale(0.9526,1)" font-size="15.4" text-rendering="geometricPrecision" stroke="#fff" stroke-width="0.1" text-anchor="start">17.6s</text>
<text transform="translate(46.90,462.00) scale(0.9526,1)" font-size="15.4" text-rendering="geometricPrecision" stroke="#fff" stroke-width="0.1" text-anchor="end">17.4s</text>
<text transform="translate(979.20,462.00) scale(0.9526,1)" font-size="15.4" text-rendering="geometricPrecision" stroke="#fff" stroke-width="0.1" text-anchor="start">17.4s</text>
<text transform="translate(46.90,492.00) scale(0.9526,1)" font-size="15.4" text-rendering="geometricPrecision" stroke="#fff" stroke-width="0.1" text-anchor="end">17.2s</text>
<text transform="translate(979.20,492.00) scale(0.9526,1)" font-size="15.4" text-rendering="geometricPrecision" stroke="#fff" stroke-width="0.1" text-anchor="start">17.2s</text>
<text transform="translate(46.90,522.00) scale(0.9526,1)" font-size="15.4" text-rendering="geometricPrecision" stroke="#fff" stroke-width="0.1" text-anchor="end">17.0s</text>
<text transform="translate(979.20,522.00) scale(0.9526,1)" font-size="15.4" text-rendering="geometricPrecision" stroke="#fff" stroke-width="0.1" text-anchor="start">17.0s</text>
<text transform="translate(46.90,552.00) scale(0.9526,1)" font-size="15.4" text-rendering="geometricPrecision" stroke="#fff" stroke-width="0.1" text-anchor="end">16.8s</text>
<text transform="translate(979.20,552.00) scale(0.9526,1)" font-size="15.4" text-rendering="geometricPrecision" stroke="#fff" stroke-width="0.1" text-anchor="start">16.8s</text>
<text transform="translate(46.90,582.00) scale(0.9526,1)" font-size="15.4" text-rendering="geometricPrecision" stroke="#fff" stroke-width="0.1" text-anchor="end">16.6s</text>
<text transform="translate(979.20,582.00) scale(0.9526,1)" font-size="15.4" text-rendering="geometricPrecision" stroke="#fff" stroke-width="0.1" text-anchor="start">16.6s</text>
<text transform="translate(46.90,612.00) scale(0.9526,1)" font-size="15.4" text-rendering="geometricPrecision" stroke="#fff" stroke-width="0.1" text-anchor="end">16.4s</text>
<text transform="translate(979.20,612.00) scale(0.9526,1)" font-size="15.4" text-rendering="geometricPrecision" stroke="#fff" stroke-width="0.1" text-anchor="start">16.4s</text>
<text transform="translate(46.90,642.00) scale(0.9526,1)" font-size="15.4" text-rendering="geometricPrecision" stroke="#fff" stroke-width="0.1" text-anchor="end">16.2s</text>
<text transform="translate(979.20,642.00) scale(0.9526,1)" font-size="15.4" text-rendering="geometricPrecision" stroke="#fff" stroke-width="0.1" text-anchor="start">16.2s</text>
<text transform="translate(46.90,672.00) scale(0.9526,1)" font-size="15.4" text-rendering="geometricPrecision" stroke="#fff" stroke-width="0.1" text-anchor="end">16.0s</text>
<text transform="translate(979.20,672.00) scale(0.9526,1)" font-size="15.4" text-rendering="geometricPrecision" stroke="#fff" stroke-width="0.1" text-anchor="start">16.0s</text>
<text transform="translate(49.50,688.80) scale(0.9526,1)" font-size="15.4" text-rendering="geometricPrecision" stroke="#fff" stroke-width="0.1" text-anchor="middle">0tr</text>
<text transform="translate(101.50,688.80) scale(0.9526,1)" font-size="15.4" text-rendering="geometricPrecision" stroke="#fff" stroke-width="0.1" text-anchor="middle">10tr</text>
<text transform="translate(152.50,688.80) scale(0.9526,1)" font-size="15.4" text-rendering="geometricPrecision" stroke="#fff" stroke-width="0.1" text-anchor="middle">20tr</text>
<text transform="translate(203.50,688.80) scale(0.9526,1)" font-size="15.4" text-rendering="geometricPrecision" stroke="#fff" stroke-width="0.1" text-anchor="middle">30tr</text>
<text transform="translate(255.50,688.80) scale(0.9526,1)" font-size="15.4" text-rendering="geometricPrecision" stroke="#fff" stroke-width="0.1" text-anchor="middle">40tr</text>
<text transform="translate(306.50,688.80) scale(0.9526,1)" font-size="15.4" text-rendering="geometricPrecision" stroke="#fff" stroke-width="0.1" text-anchor="middle">50tr</text>
<text transform="translate(357.50,688.80) scale(0.9526,1)" font-size="15.4" text-rendering="geometricPrecision" stroke="#fff" stroke-width="0.1" text-anchor="middle">60tr</text>
<text transform="translate(409.50,688.80) scale(0.9526,1)" font-size="15.4" text-rendering="geometricPrecision" stroke="#fff" stroke-width="0.1" text-anchor="middle">70tr</text>
<text transform="translate(460.50,688.80) scale(0.9526,1)" font-size="15.4" text-rendering="geometricPrecision" stroke="#fff" stroke-width="0.1" text-anchor="middle">80tr</text>
<text transform="translate(512.50,688.80) scale(0.9526,1)" font-size="15.4" text-rendering="geometricPrecision" stroke="#fff" stroke-width="0.1" text-anchor="middle">90tr</text>
<text transform="translate(563.50,688.80) scale(0.9526,1)" font-size="15.4" text-rendering="geometricPrecision" stroke="#fff" stroke-width="0.1" text-anchor="middle">100tr</text>
<text transform="translate(614.50,688.80) scale(0.9526,1)" font-size="15.4" text-rendering="geometricPrecision" stroke="#fff" stroke-width="0.1" text-anchor="middle">110tr</text>
<text transform="translate(666.50,688.80) scale(0.9526,1)" font-size="15.4" text-rendering="geometricPrecision" stroke="#fff" stroke-width="0.1" text-anchor="middle">120tr</text>
<text transform="translate(717.50,688.80) scale(0.9526,1)" font-size="15.4" text-rendering="geometricPrecision" stroke="#fff" stroke-width="0.1" text-anchor="middle">130tr</text>
<text transform="translate(768.50,688.80) scale(0.9526,1)" font-size="15.4" text-rendering="geometricPrecision" stroke="#fff" stroke-width="0.1" text-anchor="middle">140tr</text>
<text transform="translate(820.50,688.80) scale(0.9526,1)" font-size="15.4" text-rendering="geometricPrecision" stroke="#fff" stroke-width="0.1" text-anchor="middle">150tr</text>
<text transform="translate(871.50,688.80) scale(0.9526,1)" font-size="15.4" text-rendering="geometricPrecision" stroke="#fff" stroke-width="0.1" text-anchor="middle">160tr</text>
<text transform="translate(922.50,688.80) scale(0.9526,1)" font-size="15.4" text-rendering="geometricPrecision" stroke="#fff" stroke-width="0.1" text-anchor="middle">170tr</text>
<text transform="translate(974.50,688.80) scale(0.9526,1)" font-size="15.4" text-rendering="geometricPrecision" stroke="#fff" stroke-width="0.1" text-anchor="middle">180tr</text>
</svg></body></html>
